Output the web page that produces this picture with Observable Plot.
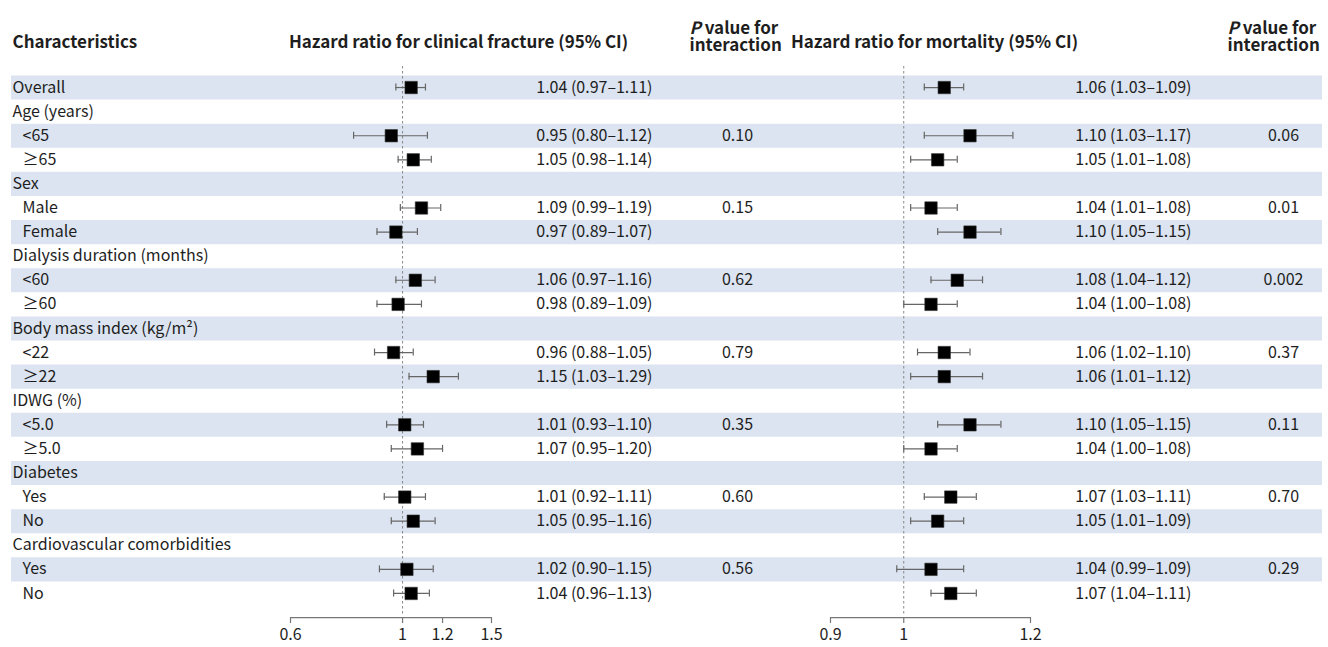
<!DOCTYPE html>
<html><head><meta charset="utf-8">
<script src="https://cdn.jsdelivr.net/npm/d3@7"></script>
<script src="https://cdn.jsdelivr.net/npm/@observablehq/plot@0.6"></script>
<style>
body{margin:0;background:#fff;}
#chart{position:relative;width:1328px;height:647px;}
#chart svg{position:absolute;left:0;top:0;}
</style></head><body><div id="chart"></div>
<script>
// ---- data ----
const labels = ["Overall","Age (years)","<65","≥65","Sex","Male","Female","Dialysis duration (months)","<60","≥60","Body mass index (kg/m²)","<22","≥22","IDWG (%)","<5.0","≥5.0","Diabetes","Yes","No","Cardiovascular comorbidities","Yes","No"];
const isSubgroup = [false,false,true,true,false,true,true,false,true,true,false,true,true,false,true,true,false,true,true,false,true,true];
const fractureHR = [1.04,null,0.95,1.05,null,1.09,0.97,null,1.06,0.98,null,0.96,1.15,null,1.01,1.07,null,1.01,1.05,null,1.02,1.04];
const fractureLo = [0.97,null,0.80,0.98,null,0.99,0.89,null,0.97,0.89,null,0.88,1.03,null,0.93,0.95,null,0.92,0.95,null,0.90,0.96];
const fractureHi = [1.11,null,1.12,1.14,null,1.19,1.07,null,1.16,1.09,null,1.05,1.29,null,1.10,1.20,null,1.11,1.16,null,1.15,1.13];
const fractureP  = ["","","0.10","","","0.15","","","0.62","","","0.79","","","0.35","","","0.60","","","0.56",""];
const mortalityHR = [1.06,null,1.10,1.05,null,1.04,1.10,null,1.08,1.04,null,1.06,1.06,null,1.10,1.04,null,1.07,1.05,null,1.04,1.07];
const mortalityLo = [1.03,null,1.03,1.01,null,1.01,1.05,null,1.04,1.00,null,1.02,1.01,null,1.05,1.00,null,1.03,1.01,null,0.99,1.04];
const mortalityHi = [1.09,null,1.17,1.08,null,1.08,1.15,null,1.12,1.08,null,1.10,1.12,null,1.15,1.08,null,1.11,1.09,null,1.09,1.11];
const mortalityP  = ["","","0.06","","","0.01","","","0.002","","","0.37","","","0.11","","","0.70","","","0.29",""];
const fractureTicks = [0.6, 1, 1.2, 1.5];
const mortalityTicks = [0.9, 1, 1.2];
const headers = {
  characteristics: "Characteristics",
  fracture: "Hazard ratio for clinical fracture (95% CI)",
  mortality: "Hazard ratio for mortality (95% CI)",
  pValue: "P value for\ninteraction"
};

// ---- build rows ----
const rows = labels.map((label, i) => ({
  i, label, sub: isSubgroup[i],
  fHR: fractureHR[i], fLo: fractureLo[i], fHi: fractureHi[i], fP: fractureP[i],
  mHR: mortalityHR[i], mLo: mortalityLo[i], mHi: mortalityHi[i], mP: mortalityP[i]
}));
const fmt = (h, l, u) => `${h.toFixed(2)} (${l.toFixed(2)}–${u.toFixed(2)})`;
const fRows = rows.filter(d => d.fHR != null);
const mRows = rows.filter(d => d.mHR != null);

const W = 1328, H = 647;
const FONT = '"Noto Sans CJK JP", "Noto Sans", sans-serif';
const rowTop = 75, rowBottom = 605;
const rowH = (rowBottom - rowTop) / labels.length;
const capHalf = 3.5 / rowH;
const tickLen = 6 / rowH;
const axisRow = labels.length; // axis baseline sits half a row below the last row
const yScale = {type: "linear", domain: [-0.5, labels.length - 0.5], range: [rowTop, rowBottom], axis: null};
const txtColor = "#1e1e1e";
const ciColor = "#666";
const axisColor = "#777";
const stripe = "#dbe4f0";
const fs = 16;
const hfs = 17;

function forestMarks(data, hr, lo, hi, ticks) {
  return [
    Plot.ruleX([1], {stroke: "#888", strokeDasharray: "2.5,2.5", strokeWidth: 1, insetTop: 66, insetBottom: 2}),
    Plot.ruleY(data, {y: "i", x1: lo, x2: hi, stroke: ciColor, strokeWidth: 1.2}),
    Plot.ruleX(data, {x: lo, y1: d => d.i - capHalf, y2: d => d.i + capHalf, stroke: ciColor, strokeWidth: 1.2}),
    Plot.ruleX(data, {x: hi, y1: d => d.i - capHalf, y2: d => d.i + capHalf, stroke: ciColor, strokeWidth: 1.2}),
    Plot.dot(data, {x: hr, y: "i", symbol: "square", r: 7, fill: "#000", stroke: "#333", strokeWidth: 0.6}),
    // axis: baseline, ticks, labels
    Plot.ruleY([axisRow], {x1: ticks[0], x2: ticks[ticks.length - 1], stroke: axisColor, strokeWidth: 1.2}),
    Plot.ruleX(ticks, {x: d => d, y1: axisRow, y2: axisRow + tickLen, stroke: axisColor, strokeWidth: 1.2}),
    Plot.text(ticks, {x: d => d, y: axisRow, text: d => `${d}`, dy: 17, lineAnchor: "middle", textAnchor: "middle", fill: txtColor, fontSize: fs})
  ];
}

const hText = (t, dx, dy, anchor, extra = {}) =>
  Plot.text([t], {frameAnchor: "top-left", dx, dy, lineAnchor: "middle", textAnchor: anchor, fontWeight: "bold", fontSize: hfs, fill: txtColor, ...extra});

const plot1 = Plot.plot({
  width: W, height: H, marginLeft: 0, marginRight: 0, marginTop: 0, marginBottom: 30,
  style: {fontFamily: FONT, fontSize: fs + "px", background: "white", color: txtColor},
  x: {type: "log", domain: [fractureTicks[0], fractureTicks[fractureTicks.length - 1]], range: [290, 491], axis: null},
  y: yScale,
  marks: [
    Plot.ruleY(rows.filter(d => d.i % 2 === 0), {y: "i", stroke: stripe, strokeWidth: rowH, insetLeft: 11, insetRight: 6}),
    hText(headers.characteristics, 12, 42, "start"),
    hText(headers.fracture, 458, 42, "middle"),
    hText(headers.pValue, 689, 36.5, "start", {lineHeight: 1}),
    Plot.text(rows.filter(d => !d.sub), {y: "i", text: "label", frameAnchor: "left", dx: 12, textAnchor: "start", fill: txtColor}),
    Plot.text(rows.filter(d => d.sub), {y: "i", text: "label", frameAnchor: "left", dx: 22, textAnchor: "start", fill: txtColor}),
    Plot.text(fRows, {y: "i", text: d => fmt(d.fHR, d.fLo, d.fHi), frameAnchor: "left", dx: 652, textAnchor: "end", fill: txtColor}),
    Plot.text(rows.filter(d => d.fP), {y: "i", text: "fP", frameAnchor: "left", dx: 737, textAnchor: "middle", fill: txtColor}),
    ...forestMarks(fRows, "fHR", "fLo", "fHi", fractureTicks)
  ]
});

const plot2 = Plot.plot({
  width: W, height: H, marginLeft: 0, marginRight: 0, marginTop: 0, marginBottom: 30,
  style: {fontFamily: FONT, fontSize: fs + "px", background: "transparent", color: txtColor},
  x: {type: "log", domain: [mortalityTicks[0], mortalityTicks[mortalityTicks.length - 1]], range: [830, 1030], axis: null},
  y: yScale,
  marks: [
    hText(headers.mortality, 934, 42, "middle"),
    hText(headers.pValue, 1227, 36.5, "start", {lineHeight: 1}),
    Plot.text(mRows, {y: "i", text: d => fmt(d.mHR, d.mLo, d.mHi), frameAnchor: "left", dx: 1191, textAnchor: "end", fill: txtColor}),
    Plot.text(rows.filter(d => d.mP), {y: "i", text: "mP", frameAnchor: "left", dx: 1283, textAnchor: "middle", fill: txtColor}),
    ...forestMarks(mRows, "mHR", "mLo", "mHi", mortalityTicks)
  ]
});

const chart = document.getElementById("chart");
chart.appendChild(plot1);
chart.appendChild(plot2);

// italicise the leading "P" of the "P value for" header lines
const firstLine = headers.pValue.split("\n")[0];
chart.querySelectorAll("tspan").forEach(ts => {
  if (ts.textContent === firstLine) {
    const ns = "http://www.w3.org/2000/svg";
    ts.textContent = "";
    const p = document.createElementNS(ns, "tspan");
    p.setAttribute("font-style", "italic");
    p.textContent = firstLine.slice(0, 1);
    const rest = document.createElementNS(ns, "tspan");
    rest.textContent = firstLine.slice(1);
    ts.appendChild(p);
    ts.appendChild(rest);
  }
});
</script>
</body></html>
